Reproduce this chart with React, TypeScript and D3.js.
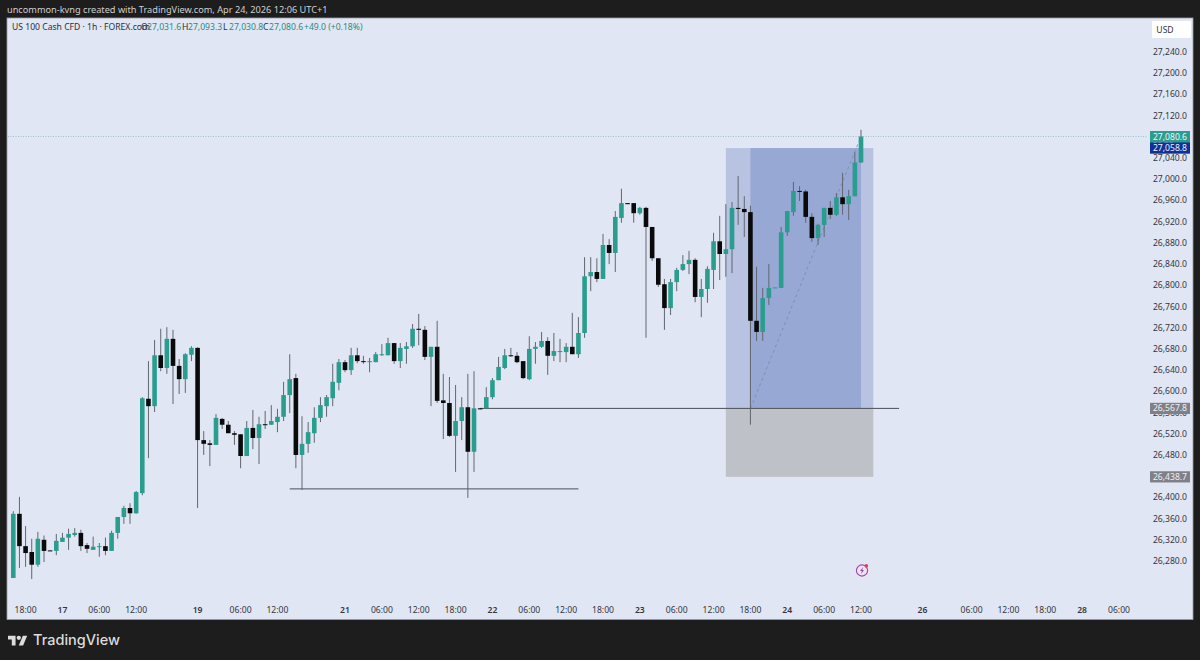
import React from "react";
import * as d3 from "d3";

// [open, high, low, close] for every hourly bar, in price units
const candles: number[][] = [
[26248,26374,26248,26369],[26369,26401,26267,26308],[26308,26346,26269,26295],[26297,26322,26246,26273],[26273,26335,26269,26322],
[26320,26328,26278,26299],[26300,26300,26299,26299],[26299,26331,26291,26318],[26316,26333,26316,26324],[26324,26341,26301,26331],
[26329,26342,26326,26333],[26333,26339,26299,26308],[26310,26314,26295,26303],[26301,26326,26301,26307],[26307,26314,26288,26308],
[26308,26324,26291,26299],[26299,26337,26299,26333],[26333,26363,26322,26363],[26363,26384,26350,26380],[26380,26389,26350,26370],
[26370,26412,26369,26410],[26408,26589,26404,26587],[26586,26657,26474,26572],[26572,26697,26561,26668],[26668,26718,26638,26644],
[26644,26721,26633,26699],[26699,26716,26576,26648],[26648,26661,26595,26623],[26623,26672,26597,26670],[26669,26685,26657,26682],
[26682,26683,26380,26508],[26508,26525,26480,26501],[26502,26508,26459,26499],[26499,26557,26499,26550],[26548,26550,26529,26537],
[26537,26544,26521,26521],[26521,26525,26499,26518],[26519,26519,26455,26478],[26478,26544,26478,26531],[26531,26565,26491,26512],
[26512,26552,26463,26538],[26538,26563,26529,26537],[26537,26574,26537,26544],[26542,26567,26523,26552],[26552,26618,26544,26593],
[26593,26670,26559,26623],[26625,26633,26455,26480],[26480,26553,26414,26501],[26501,26542,26484,26523],[26521,26570,26503,26550],
[26550,26589,26542,26574],[26572,26593,26552,26589],[26587,26652,26572,26618],[26616,26661,26602,26655],[26655,26659,26636,26640],
[26640,26682,26631,26668],[26668,26682,26653,26657],[26657,26667,26652,26656],[26655,26663,26636,26657],[26655,26674,26655,26670],
[26668,26689,26667,26670],[26668,26701,26668,26691],[26691,26691,26652,26657],[26657,26691,26644,26682],[26680,26693,26652,26685],
[26685,26727,26682,26718],[26718,26746,26687,26716],[26716,26723,26659,26665],[26665,26684,26572,26684],[26684,26733,26578,26582],
[26583,26633,26510,26578],[26578,26627,26514,26516],[26516,26612,26448,26544],[26544,26589,26508,26570],[26570,26633,26399,26486],
[26486,26638,26448,26568],[26568,26568,26566,26566],[26568,26608,26568,26589],[26589,26625,26585,26621],[26621,26665,26621,26646],
[26644,26680,26642,26668],[26668,26682,26665,26667],[26667,26674,26653,26655],[26657,26657,26623,26625],[26623,26704,26621,26680],
[26680,26693,26652,26684],[26684,26712,26682,26695],[26695,26702,26631,26667],[26667,26710,26657,26676],[26674,26699,26655,26676],
[26674,26691,26655,26684],[26684,26748,26670,26670],[26670,26740,26663,26710],[26710,26853,26701,26817],[26817,26853,26789,26825],
[26825,26851,26806,26812],[26812,26897,26812,26876],[26876,26887,26840,26861],[26861,26940,26825,26929],[26927,26982,26918,26955],
[26955,26955,26953,26953],[26955,26955,26918,26936],[26936,26948,26933,26946],[26946,26948,26701,26910],[26910,26910,26846,26851],
[26851,26851,26797,26801],[26802,26812,26716,26757],[26757,26812,26744,26806],[26806,26833,26789,26829],[26829,26857,26827,26840],
[26840,26865,26821,26848],[26848,26851,26768,26778],[26778,26812,26740,26793],[26793,26836,26767,26831],[26829,26899,26793,26883],
[26883,26931,26810,26859],[26859,26953,26816,26868],[26868,26957,26823,26946],[26946,27006,26914,26944],[26944,26968,26891,26938],
[26938,26950,26537,26733],[26733,26835,26695,26712],[26712,26795,26695,26776],[26776,26840,26763,26795],[26795,26795,26795,26796],
[26795,26910,26795,26900],[26900,26940,26893,26940],[26938,26995,26931,26978],[26978,26987,26959,26977],[26977,26980,26918,26929],
[26929,26936,26882,26889],[26889,26916,26876,26914],[26914,26946,26891,26946],[26946,26959,26925,26933],[26933,26974,26931,26966],
[26966,27012,26933,26953],[26953,26980,26923,26968],[26968,27051,26968,27031.6],[27031.6,27093.3,27030.8,27080.6],
];

const timeTicks: [number, string][] = [
[2,"18:00"],[8,"17"],[14,"06:00"],[20,"12:00"],[30,"19"],[37,"06:00"],[43,"12:00"],[54,"21"],[60,"06:00"],[66,"12:00"],[72,"18:00"],
[78,"22"],[84,"06:00"],[90,"12:00"],[96,"18:00"],[102,"23"],[108,"06:00"],[114,"12:00"],[120,"18:00"],[126,"24"],[132,"06:00"],
[138,"12:00"],[148,"26"],[156,"06:00"],[162,"12:00"],[168,"18:00"],[174,"28"],[180,"06:00"],
];
const priceTicks = d3.range(26280, 27241, 40);

const lastPrice = 27080.6;
const stopLevel = 26438.7;
const entryLevel = 26567.8;
const targetLevel = 27058.8;
const lowLevel = 26416;
const headerTitle = "US 100 Cash CFD · 1h · FOREX.com";
const ohlc: [string, string, number][] = [["O","27,031.6",141],["H","27,093.3",182],["L","27,030.8",223],["C","27,080.6",263]];

const FONT = "'Noto Sans', 'Open Sans', sans-serif";
const BG = "#e1e6f4";
const UP = "#2a9d8f";
const DOWN = "#0a0a0a";
const WICK = "#62666f";

const x = d3.scaleLinear().domain([0, 138]).range([13.3, 861]);
const y = d3.scaleLinear().domain([26280, 27240]).range([561, 52]);
const fmt = d3.format(",.1f");

function PriceTag({ value, fill }: { value: number; fill: string }) {
  const c = y(value);
  return (
    <g>
      <rect x={1150} y={c - 5.6} width={40} height={11.2} fill={fill} />
      <text x={1170} y={c + 3} textAnchor="middle" fontSize={8.6} fill="#eef0f6" fontFamily={FONT}>{fmt(value)}</text>
    </g>
  );
}

export default function App() {
  const boxL = x(116), boxR = x(140), inL = x(120), inR = x(138);
  return (
    <svg width={1200} height={660} viewBox="0 0 1200 660" style={{ position: "fixed", left: 0, top: 0, display: "block" }}>
      <rect width={1200} height={660} fill="#1d1d1d" />
      <text x={7} y={13} fontSize={9.2} fill="#cfcfcf" fontFamily={FONT}>uncommon-kvng created with TradingView.com, Apr 24, 2026 12:06 UTC+1</text>

      <rect x={7} y={18} width={1186} height={601.5} fill={BG} stroke="#9a9ca3" strokeWidth={0.8} />

      {/* position tool */}
      <rect x={boxL} y={y(targetLevel)} width={boxR - boxL} height={y(entryLevel) - y(targetLevel)} fill="#b8c3e2" />
      <rect x={inL} y={y(targetLevel)} width={inR - inL} height={y(entryLevel) - y(targetLevel)} fill="#97a8d4" />
      <rect x={boxL} y={y(entryLevel)} width={boxR - boxL} height={y(stopLevel) - y(entryLevel)} fill="#bfc1c8" />
      <line x1={inL} y1={y(entryLevel)} x2={inR} y2={y(lastPrice)} stroke="#7f8aa8" strokeWidth={1} strokeDasharray="3 3" opacity={0.8} />

      {/* last price line */}
      <line x1={8} x2={1148} y1={y(lastPrice)} y2={y(lastPrice)} stroke="#8fb8bb" strokeWidth={0.8} strokeDasharray="1 1.5" />

      {/* horizontal levels */}
      <line x1={x(76)} x2={x(144.2)} y1={y(entryLevel)} y2={y(entryLevel)} stroke="#4c4f57" strokeWidth={1} />
      <line x1={x(45)} x2={x(92)} y1={y(lowLevel)} y2={y(lowLevel)} stroke="#4c4f57" strokeWidth={1} />

      {/* candles */}
      <g>
        {candles.map((d, i) => {
          const [o, h, l, c] = d;
          const up = c >= o;
          const top = y(Math.max(o, c));
          const bot = y(Math.min(o, c));
          const px = x(i);
          return (
            <g key={i}>
              <line x1={px} x2={px} y1={y(h)} y2={y(l)} stroke={WICK} strokeWidth={1} />
              <rect x={px - 2.3} y={top} width={4.6} height={Math.max(bot - top, 1)} fill={up ? UP : DOWN} />
            </g>
          );
        })}
      </g>

      {/* header */}
      <text x={12} y={30} fontSize={8.6} fill="#2c2f36" fontFamily={FONT}>{headerTitle}</text>
      {ohlc.map(([k, v, px]) => (
        <g key={k}>
          <text x={px} y={30} fontSize={8.6} fill="#2c2f36" fontFamily={FONT}>{k}</text>
          <text x={px + 6} y={30} fontSize={8.6} fill="#2a8a80" fontFamily={FONT}>{v}</text>
        </g>
      ))}
      <text x={304} y={30} fontSize={8.6} fill="#2a8a80" fontFamily={FONT}>+49.0 (+0.18%)</text>

      {/* price axis */}
      {priceTicks.map((p) => (
        <text key={p} x={1187} y={y(p) + 3} textAnchor="end" fontSize={8.6} fill="#33363d" fontFamily={FONT}>{fmt(p)}</text>
      ))}
      <rect x={1152} y={21} width={39} height={17} fill="#ffffff" />
      <text x={1165} y={33} textAnchor="middle" fontSize={8.6} fill="#33363d" fontFamily={FONT}>USD</text>

      <rect x={1150} y={131} width={40} height={21} fill={UP} />
      <text x={1170} y={139.5} textAnchor="middle" fontSize={8.6} fill="#f2f5f6" fontFamily={FONT}>{fmt(lastPrice)}</text>
      <text x={1163} y={149} textAnchor="middle" fontSize={8.2} fill="#cfe9e4" fontFamily={FONT}>53:35</text>
      <PriceTag value={targetLevel} fill="#0f3096" />
      <PriceTag value={entryLevel} fill="#7f8088" />
      <PriceTag value={stopLevel} fill="#7f8088" />

      {/* time axis */}
      {timeTicks.map(([i, t], k) => (
        <text key={k} x={x(i)} y={613} textAnchor="middle" fontSize={8.6} fontWeight={t.length < 3 ? 600 : 400} fill="#33363d" fontFamily={FONT}>{t}</text>
      ))}

      {/* flash icon */}
      <g transform="translate(862,570.5)">
        <circle r={7.5} fill="#f3dff0" />
        <circle r={5.6} fill="none" stroke="#8a4fa8" strokeWidth={1.1} />
        <path d="M1.2 -3.4 L-2 0.5 H-0.2 L-1 3.4 L2 -0.6 H0.2 Z" fill="#8a4fa8" />
        <circle cx={4.4} cy={-4.6} r={1.8} fill="#d6455d" />
      </g>

      {/* brand */}
      <g transform="translate(8,633.5) scale(0.54)" fill="#dcdcdc">
        <path d="M14 22H7V11H0V4h14v18zM28 22h-8l7.5-18h8L28 22z" />
        <circle cx={20} cy={8} r={4} />
      </g>
      <text x={33} y={645} fontSize={14.5} fontWeight={500} fill="#dcdcdc" fontFamily="Inter, 'Noto Sans', sans-serif">TradingView</text>
    </svg>
  );
}
